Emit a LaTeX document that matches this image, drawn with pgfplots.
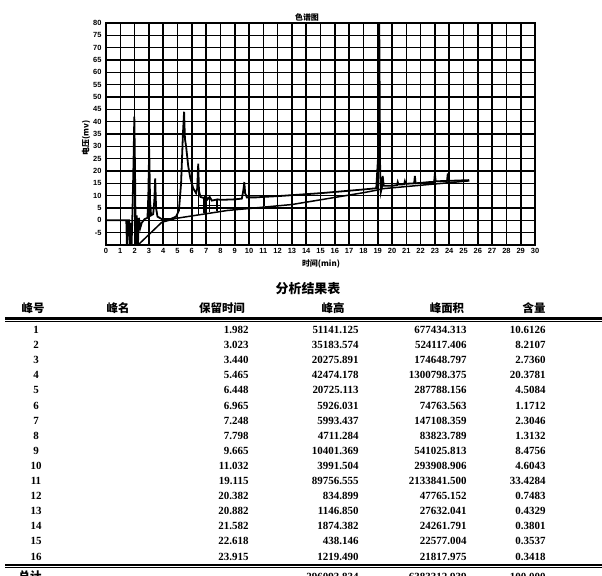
\documentclass[border=0pt]{standalone}
\usepackage{fontspec}
\setmainfont{Liberation Serif}
\newfontfamily\cjk{Noto Sans CJK SC}
\newfontfamily\tickfont{Liberation Sans}
\usepackage{pgfplots}
\pgfplotsset{compat=1.18}
\newcommand{\numfont}{\fontsize{11}{12}\selectfont\bfseries}
\newcommand{\hdfont}{\cjk\bfseries\fontsize{11.5}{13}\selectfont}
\begin{document}
\begin{tikzpicture}[x=1bp,y=1bp]
\useasboundingbox (0,0) rectangle (602,576);
\clip (0,0) rectangle (602,576);
\begin{axis}[
  at={(106bp,331bp)}, anchor=south west, scale only axis,
  width=429bp, height=222bp,
  xmin=0, xmax=30, ymin=-10, ymax=80,
  xtick={0,1,...,30}, ytick={-5,0,...,80},
  grid=major, major grid style={black, line width=1.6pt},
  axis line style={black, line width=1.8pt},
  major tick length=0pt,
  tick label style={font=\tickfont\bfseries\fontsize{7.5}{8}\selectfont},
  /pgf/number format/assume math mode=true,
  xticklabel style={yshift=0pt}, yticklabel style={xshift=-1pt},
  unbounded coords=jump,
]
% signal
\addplot[black, line width=1.8pt] coordinates {
(0,0) (1.42,0) (1.47,-12) (1.52,0) (1.62,0) (1.67,-12) (1.72,-1) (1.78,-12)
(1.85,3) (1.93,25) (1.98,42) (2.03,20) (2.08,-12) (2.15,2) (2.22,-12) (2.3,1)
(2.4,-3) (2.5,-1) (2.7,0.5) (2.9,1) (2.96,10) (3.02,29) (3.08,8) (3.15,2)
(3.3,2.5) (3.38,8) (3.44,17) (3.5,5) (3.6,1.5) (3.9,0.5) (4.5,0.5) (4.9,1.5)
(5.1,4) (5.25,15) (5.38,35) (5.46,44) (5.52,33) (5.6,30) (5.75,22) (5.9,17)
(6.1,13) (6.3,11) (6.38,13) (6.45,23) (6.5,12) (6.6,9.5) (6.85,9) (6.97,10)
(7.1,8.5) (7.25,9.5) (7.4,8) (7.8,8.5) (8.0,8.3) (9.0,8.5) (9.5,8.8) (9.6,12)
(9.67,15.5) (9.73,11) (9.85,9.3) (10.5,9.3) (11.0,9.5) (12,9.8) (13,10.2)
(14,10.6) (15,11) (16,11.5) (17,12) (18,12.5) (18.9,13) (19.02,25) (19.1,88)
(19.17,20) (19.22,11.5) (19.3,13.5) (19.35,18) (19.42,14) (20,14) (20.35,14.3)
(20.4,15.5) (20.45,14.5) (20.85,14.6) (20.9,15.8) (20.95,14.8) (21.55,15)
(21.6,18) (21.65,15) (22.6,15.5) (22.95,15.6) (23.0,19) (23.05,15.8)
(23.85,16) (23.9,19) (23.95,16) (25.4,16.3)
};
% fitted baseline
\addplot[black, line width=1.5pt] coordinates {
(2.24,-10) (3.9,-0.8) (4.9,0.8) (8.5,4) (13,6.4) (18,11.2) (19.0,12.3)
(19.3,12.8) (25.4,16)
};
% drop lines
\addplot[black, line width=1.4pt] coordinates {
(6.45,12) (6.45,2.6) (nan,nan)
(6.85,9) (6.85,3) (nan,nan)
(7.25,9.5) (7.25,3.4) (nan,nan)
(7.75,8.5) (7.75,3.8) (nan,nan)
(6.5,6) (8.0,6) (nan,nan)
(11.05,9.5) (11.05,5.7)
};
\end{axis}
% chart texts
\node[font=\cjk\bfseries\fontsize{8}{9}\selectfont] at (307,559) {色谱图};
\node[font=\cjk\bfseries\fontsize{8}{9}\selectfont] at (321,312) {时间(min)};
\node[font=\cjk\bfseries\fontsize{8}{9}\selectfont, rotate=90] at (86,438) {电压(mv)};
% table
\node[font=\cjk\bfseries\fontsize{13}{14}\selectfont] at (308,287) {分析结果表};
\node[font=\hdfont] at (33,268) {峰号};
\node[font=\hdfont] at (118,268) {峰名};
\node[font=\hdfont] at (222,268) {保留时间};
\node[font=\hdfont] at (333,268) {峰高};
\node[font=\hdfont] at (447,268) {峰面积};
\node[font=\hdfont] at (534,268) {含量};
\draw[line width=2.2pt] (5,257.5) -- (602,257.5);
\draw[line width=0.9pt] (5,255) -- (602,255);
\foreach \n/\t/\h/\a/\c [count=\i] in {
1/1.982/51141.125/677434.313/10.6126,
2/3.023/35183.574/524117.406/8.2107,
3/3.440/20275.891/174648.797/2.7360,
4/5.465/42474.178/1300798.375/20.3781,
5/6.448/20725.113/287788.156/4.5084,
6/6.965/5926.031/74763.563/1.1712,
7/7.248/5993.437/147108.359/2.3046,
8/7.798/4711.284/83823.789/1.3132,
9/9.665/10401.369/541025.813/8.4756,
10/11.032/3991.504/293908.906/4.6043,
11/19.115/89756.555/2133841.500/33.4284,
12/20.382/834.899/47765.152/0.7483,
13/20.882/1146.850/27632.041/0.4329,
14/21.582/1874.382/24261.791/0.3801,
15/22.618/438.146/22577.004/0.3537,
16/23.915/1219.490/21817.975/0.3418}
{
  \pgfmathsetmacro\yy{246-(\i-1)*15.1}
  \node[font=\numfont] at (36,\yy) {\n};
  \node[font=\numfont, anchor=east] at (252,\yy) {\t};
  \node[font=\numfont, anchor=east] at (362,\yy) {\h};
  \node[font=\numfont, anchor=east] at (470,\yy) {\a};
  \node[font=\numfont, anchor=east] at (549,\yy) {\c};
}
\draw[line width=2.2pt] (5,11) -- (602,11);
\draw[line width=0.9pt] (5,8.5) -- (602,8.5);
\node[font=\hdfont] at (30,-0.5) {总计};
\node[font=\numfont, anchor=east] at (362,-0.5) {296093.834};
\node[font=\numfont, anchor=east] at (470,-0.5) {6383312.939};
\node[font=\numfont, anchor=east] at (549,-0.5) {100.000};
\end{tikzpicture}
\end{document}
